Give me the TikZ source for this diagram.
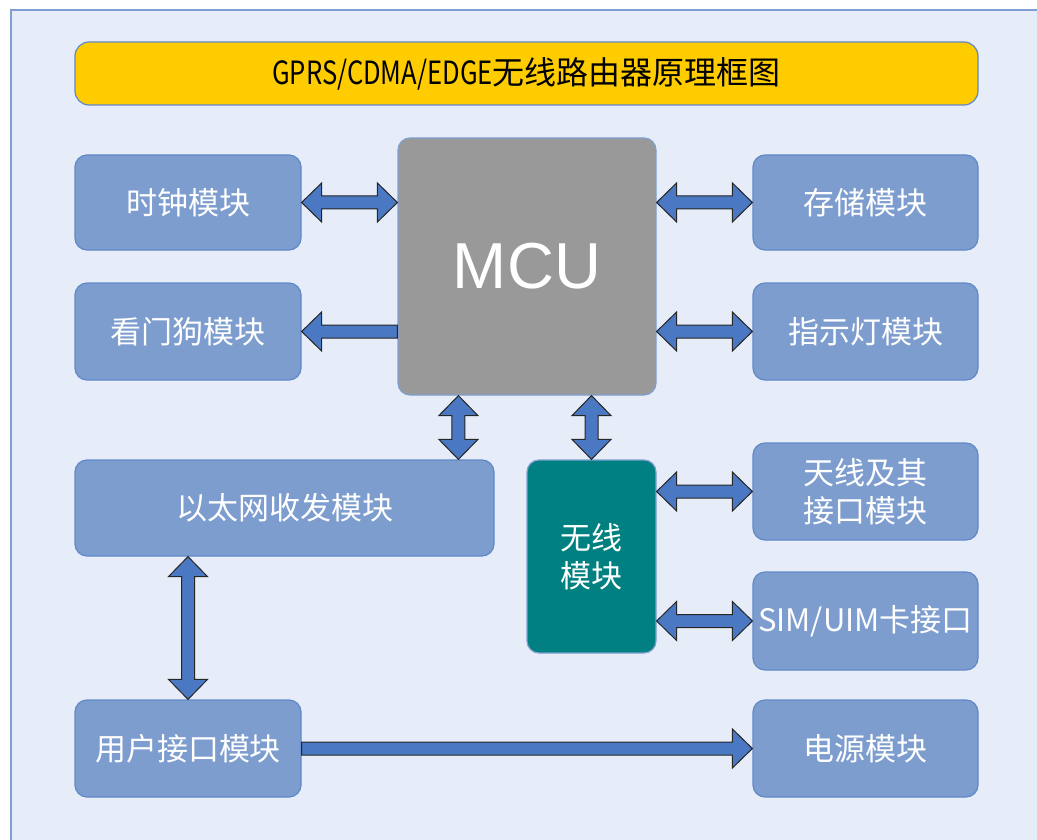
\documentclass[tikz,border=0pt]{standalone}
\usepackage{fontspec}
\setmainfont{Noto Sans CJK SC}
\newfontfamily\mcufont{Liberation Sans}
\usetikzlibrary{calc}
\definecolor{bgc}{HTML}{E7EDF8}
\definecolor{framec}{HTML}{7F9FD3}
\definecolor{boxfill}{HTML}{7D9DCF}
\definecolor{boxline}{HTML}{6088C8}
\definecolor{titlec}{HTML}{FFCC00}
\definecolor{mcuc}{HTML}{999999}
\definecolor{wlc}{HTML}{008080}
\definecolor{arrowfill}{HTML}{4A78C2}
\def\arrH{20pt}
\def\arrW{19.5pt}
\def\arrS{6.5pt}
\tikzset{
  box/.style={draw=boxline, line width=1.2pt, fill=boxfill, rounded corners=12pt,
    text=white, font=\fontsize{31}{38}\selectfont, align=center, inner sep=0pt},
  darr/.style={draw=black!85, fill=arrowfill, line width=1pt, line join=miter,
    to path={-- ($(\tikztostart)!\arrH!(\tikztotarget)!\arrW!90:(\tikztotarget)$)
      -- ($(\tikztostart)!\arrH!(\tikztotarget)!\arrS!90:(\tikztotarget)$)
      -- ($(\tikztotarget)!\arrH!(\tikztostart)!\arrS!-90:(\tikztostart)$)
      -- ($(\tikztotarget)!\arrH!(\tikztostart)!\arrW!-90:(\tikztostart)$)
      -- (\tikztotarget)
      -- ($(\tikztotarget)!\arrH!(\tikztostart)!\arrW!90:(\tikztostart)$)
      -- ($(\tikztotarget)!\arrH!(\tikztostart)!\arrS!90:(\tikztostart)$)
      -- ($(\tikztostart)!\arrH!(\tikztotarget)!\arrS!-90:(\tikztotarget)$)
      -- ($(\tikztostart)!\arrH!(\tikztotarget)!\arrW!-90:(\tikztotarget)$)
      -- cycle}},
  sarr/.style={draw=black!85, fill=arrowfill, line width=1pt, line join=miter,
    to path={-- ($(\tikztostart)!\arrS!90:(\tikztotarget)$)
      -- ($(\tikztotarget)!\arrH!(\tikztostart)!\arrS!-90:(\tikztostart)$)
      -- ($(\tikztotarget)!\arrH!(\tikztostart)!\arrW!-90:(\tikztostart)$)
      -- (\tikztotarget)
      -- ($(\tikztotarget)!\arrH!(\tikztostart)!\arrW!90:(\tikztostart)$)
      -- ($(\tikztotarget)!\arrH!(\tikztostart)!\arrS!90:(\tikztostart)$)
      -- ($(\tikztostart)!\arrS!-90:(\tikztotarget)$)
      -- cycle}},
}
\begin{document}
\begin{tikzpicture}[x=1pt,y=-1pt]
\useasboundingbox (0,0) rectangle (1037,840);
\clip (0,0) rectangle (1037,840);
\fill[white] (0,0) rectangle (1037,840);
\draw[draw=framec, line width=2pt, fill=bgc] (11,10) rectangle (1060,860);

\node[draw=boxline, line width=1.2pt, fill=titlec, rounded corners=14pt,
  minimum width=903pt, minimum height=63pt, inner sep=0pt,
  font=\fontsize{32}{36}\selectfont] (title) at (526.5,73.5)
  {\scalebox{0.8}[1]{GPRS/CDMA/EDGE}无线路由器原理框图};

\node[box, minimum width=226pt, minimum height=95pt] (clock) at (188,202.5) {时钟模块};
\node[box, minimum width=226pt, minimum height=97pt] (wd) at (188,331.5) {看门狗模块};
\node[box, fill=mcuc, draw=framec, minimum width=258pt, minimum height=257pt,
  font=\mcufont\fontsize{65}{70}\selectfont] (mcu) at (527,266.5) {MCU};
\node[box, minimum width=225pt, minimum height=95pt] (stor) at (865.5,202.5) {存储模块};
\node[box, minimum width=225pt, minimum height=97pt] (led) at (865.5,331.5) {指示灯模块};
\node[box, minimum width=419pt, minimum height=96pt] (eth) at (284.5,508) {以太网收发模块};
\node[box, fill=wlc, draw=framec, minimum width=129pt, minimum height=193pt] (wl) at (591.5,556.5) {无线\\模块};
\node[box, minimum width=225pt, minimum height=97pt] (ant) at (865.5,491.5) {天线及其\\接口模块};
\node[box, minimum width=225pt, minimum height=98pt] (sim) at (865.5,621) {SIM/UIM卡接口};
\node[box, minimum width=226pt, minimum height=97pt] (user) at (188,748.5) {用户接口模块};
\node[box, minimum width=225pt, minimum height=97pt] (pwr) at (865.5,748.5) {电源模块};

\coordinate (m1) at (mcu.west |- clock.east);
\coordinate (m2) at (mcu.west |- wd.east);
\coordinate (m3) at (mcu.east |- stor.west);
\coordinate (m4) at (mcu.east |- led.west);
\coordinate (m5) at ($(mcu.south west)+(61,0)$);
\coordinate (e5) at (m5 |- eth.north);
\coordinate (m6) at (mcu.south -| wl.north);
\coordinate (w1) at (wl.east |- ant.west);
\coordinate (w2) at (wl.east |- sim.west);
\coordinate (e7) at (eth.south -| user.north);

\draw[darr] (clock.east) to (m1);
\draw[sarr] (m2) to (wd.east);
\draw[darr] (m3) to (stor.west);
\draw[darr] (m4) to (led.west);
\draw[darr] (m5) to (e5);
\draw[darr] (m6) to (wl.north);
\draw[darr] (w1) to (ant.west);
\draw[darr] (w2) to (sim.west);
\draw[darr] (e7) to (user.north);
\draw[sarr] (user.east) to (pwr.west);
\end{tikzpicture}
\end{document}
